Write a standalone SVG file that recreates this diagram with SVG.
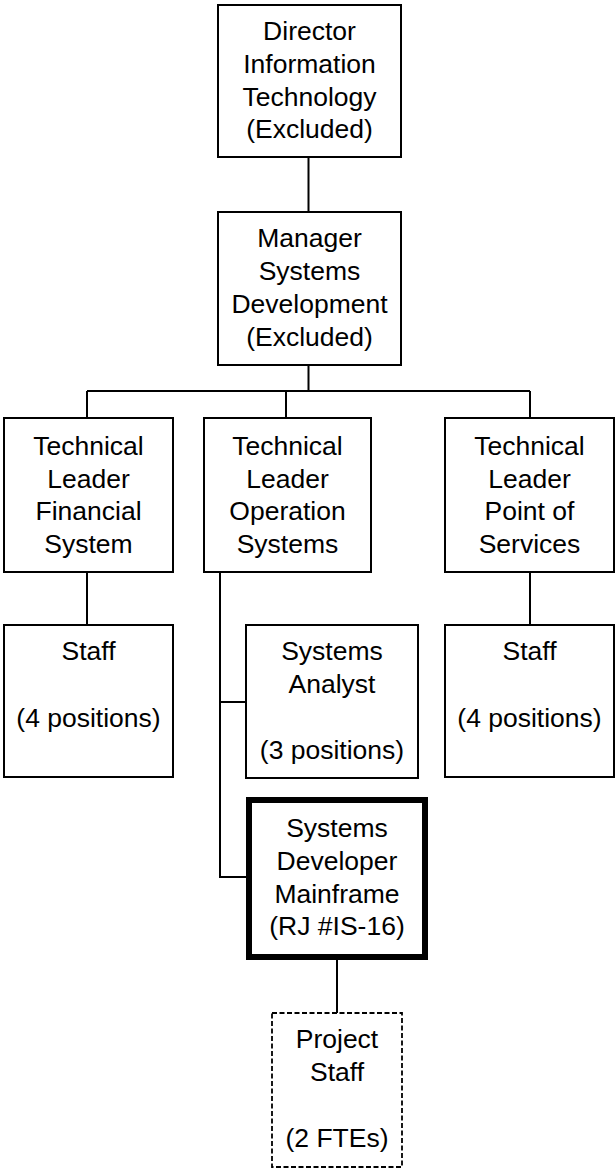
<svg xmlns="http://www.w3.org/2000/svg" width="616" height="1169" viewBox="0 0 616 1169">
<style>
.box{fill:#fff;stroke:#000;stroke-width:2}
.thick{fill:#fff;stroke:#000;stroke-width:6}
.dash{fill:#fff;stroke:#000;stroke-width:1.8;stroke-dasharray:5 2.5}
.lbl{font-family:"Liberation Sans",Arial,sans-serif;font-size:26.5px;fill:#000;text-anchor:middle}
.conn{fill:none;stroke:#000;stroke-width:2}
</style>
<rect width="616" height="1169" fill="#fff"/>
<g id="connectors" class="conn">
<path d="M308.5,157V212"/>
<path d="M308.5,365V391"/>
<path d="M87,391H530"/>
<path d="M87,391V418"/>
<path d="M286,391V418"/>
<path d="M530,391V418"/>
<path d="M87,572V625"/>
<path d="M530,572V625"/>
<path d="M220,572V877H246"/>
<path d="M220,702H246"/>
<path d="M337,960V1013"/>
</g>
<g id="director">
<rect class="box" x="218" y="5" width="183" height="152"/>
<text class="lbl" x="309.5" y="40">Director</text>
<text class="lbl" x="309.5" y="72.5">Information</text>
<text class="lbl" x="309.5" y="105.5">Technology</text>
<text class="lbl" x="309.5" y="138">(Excluded)</text>
</g>
<g id="manager">
<rect class="box" x="218" y="212" width="183" height="153"/>
<text class="lbl" x="309.5" y="247">Manager</text>
<text class="lbl" x="309.5" y="280">Systems</text>
<text class="lbl" x="309.5" y="313">Development</text>
<text class="lbl" x="309.5" y="345.5">(Excluded)</text>
</g>
<g id="tl-financial">
<rect class="box" x="4" y="418" width="169" height="154"/>
<text class="lbl" x="88.5" y="455">Technical</text>
<text class="lbl" x="88.5" y="487.5">Leader</text>
<text class="lbl" x="88.5" y="520">Financial</text>
<text class="lbl" x="88.5" y="552.5">System</text>
</g>
<g id="tl-operation">
<rect class="box" x="204" y="418" width="167" height="154"/>
<text class="lbl" x="287.5" y="455">Technical</text>
<text class="lbl" x="287.5" y="487.5">Leader</text>
<text class="lbl" x="287.5" y="520">Operation</text>
<text class="lbl" x="287.5" y="552.5">Systems</text>
</g>
<g id="tl-pos">
<rect class="box" x="445" y="418" width="169" height="154"/>
<text class="lbl" x="529.5" y="455">Technical</text>
<text class="lbl" x="529.5" y="487.5">Leader</text>
<text class="lbl" x="529.5" y="520">Point of</text>
<text class="lbl" x="529.5" y="552.5">Services</text>
</g>
<g id="staff-financial">
<rect class="box" x="4" y="625" width="169" height="152"/>
<text class="lbl" x="88.5" y="660">Staff</text>
<text class="lbl" x="88.5" y="727">(4 positions)</text>
</g>
<g id="systems-analyst">
<rect class="box" x="246" y="625" width="172" height="153"/>
<text class="lbl" x="332" y="660">Systems</text>
<text class="lbl" x="332" y="693">Analyst</text>
<text class="lbl" x="332" y="759">(3 positions)</text>
</g>
<g id="staff-pos">
<rect class="box" x="445" y="625" width="169" height="152"/>
<text class="lbl" x="529.5" y="660">Staff</text>
<text class="lbl" x="529.5" y="727">(4 positions)</text>
</g>
<g id="systems-developer">
<rect class="thick" x="249" y="800" width="176" height="157"/>
<text class="lbl" x="337" y="837">Systems</text>
<text class="lbl" x="337" y="870">Developer</text>
<text class="lbl" x="337" y="903">Mainframe</text>
<text class="lbl" x="337" y="935">(RJ #IS-16)</text>
</g>
<g id="project-staff">
<rect class="dash" x="272" y="1013" width="130" height="154"/>
<text class="lbl" x="337" y="1048">Project</text>
<text class="lbl" x="337" y="1081">Staff</text>
<text class="lbl" x="337" y="1147">(2 FTEs)</text>
</g>
</svg>
